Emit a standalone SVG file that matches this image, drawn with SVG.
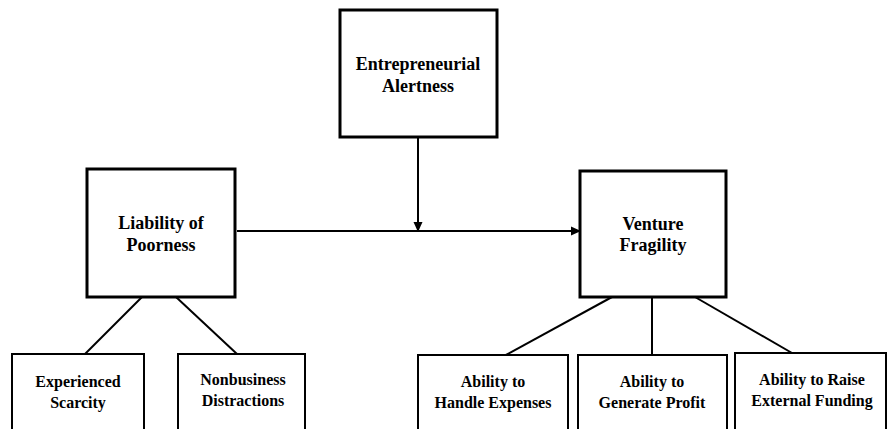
<svg xmlns="http://www.w3.org/2000/svg" width="888" height="429" viewBox="0 0 888 429">
<style>
.main{fill:#fff;stroke:#000;stroke-width:3}
.sub{fill:#fff;stroke:#000;stroke-width:2}
.t{font-family:"Liberation Serif","Times New Roman",serif;font-weight:bold;fill:#000;text-anchor:middle}
.tm{font-size:18px}
.ts{font-size:16px}
.c{stroke:#000;stroke-width:2;fill:none}
</style>
<defs>
<marker id="ah" markerWidth="10" markerHeight="10" refX="9" refY="5" orient="auto" markerUnits="userSpaceOnUse">
<path d="M0,0.5 L10,5 L0,9.5 Z" fill="#000"/>
</marker>
</defs>
<rect width="888" height="429" fill="#fff"/>
<g id="connectors">
<line class="c" x1="237" y1="231" x2="580" y2="231" marker-end="url(#ah)"/>
<line class="c" x1="418" y1="137" x2="418" y2="231" marker-end="url(#ah)"/>
<line class="c" x1="142" y1="297" x2="85" y2="354"/>
<line class="c" x1="176" y1="297" x2="237" y2="354"/>
<line class="c" x1="612" y1="297" x2="506" y2="355"/>
<line class="c" x1="652" y1="297" x2="652" y2="355"/>
<line class="c" x1="695" y1="297" x2="792" y2="353"/>
</g>
<g id="alertness">
<rect class="main" x="340" y="10" width="157" height="127"/>
<text class="t tm" x="418" y="70">Entrepreneurial</text>
<text class="t tm" x="418" y="92">Alertness</text>
</g>
<g id="poorness">
<rect class="main" x="87" y="169" width="148" height="128"/>
<text class="t tm" x="161" y="229">Liability of</text>
<text class="t tm" x="161" y="251">Poorness</text>
</g>
<g id="fragility">
<rect class="main" x="580" y="171" width="146" height="126"/>
<text class="t tm" x="653" y="230">Venture</text>
<text class="t tm" x="653" y="251">Fragility</text>
</g>
<g id="scarcity">
<rect class="sub" x="12" y="354" width="132" height="90"/>
<text class="t ts" x="78" y="387">Experienced</text>
<text class="t ts" x="78" y="408">Scarcity</text>
</g>
<g id="distractions">
<rect class="sub" x="178" y="354" width="127" height="90"/>
<text class="t ts" x="243" y="385">Nonbusiness</text>
<text class="t ts" x="243" y="406">Distractions</text>
</g>
<g id="expenses">
<rect class="sub" x="418" y="355" width="150" height="90"/>
<text class="t ts" x="493" y="387">Ability to</text>
<text class="t ts" x="493" y="408">Handle Expenses</text>
</g>
<g id="profit">
<rect class="sub" x="578" y="355" width="149" height="90"/>
<text class="t ts" x="652" y="387">Ability to</text>
<text class="t ts" x="652" y="408">Generate Profit</text>
</g>
<g id="funding">
<rect class="sub" x="735" y="353" width="151" height="90"/>
<text class="t ts" x="812" y="385">Ability to Raise</text>
<text class="t ts" x="812" y="406">External Funding</text>
</g>
</svg>
